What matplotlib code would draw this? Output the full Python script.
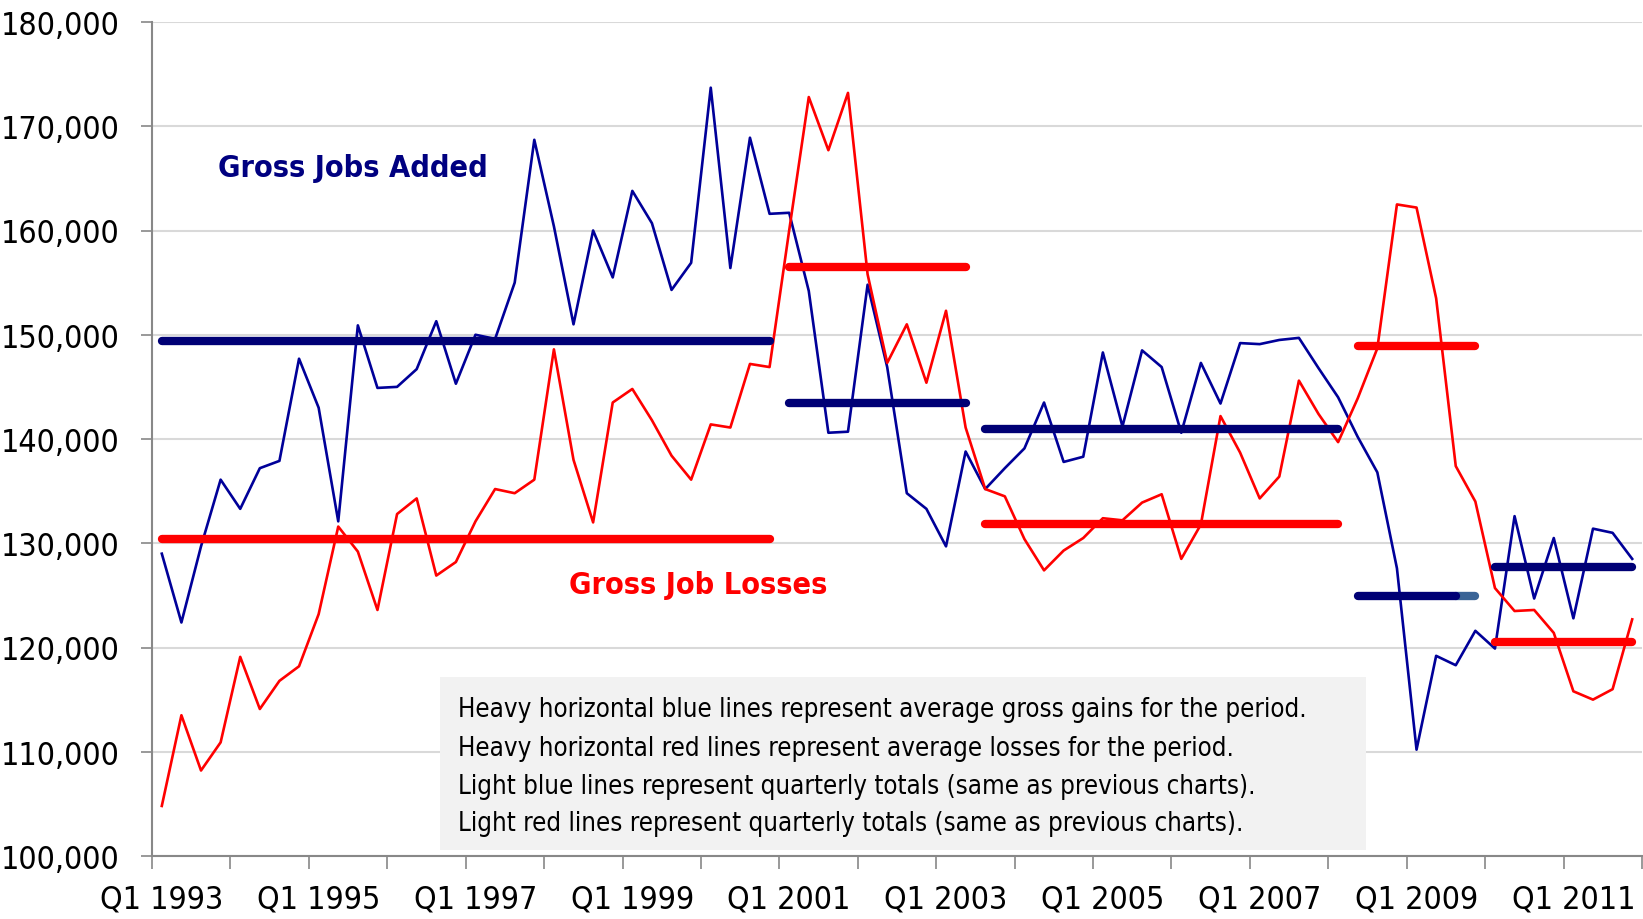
import numpy as np
import matplotlib
matplotlib.use("Agg")
import matplotlib.pyplot as plt
from matplotlib.patches import Rectangle
from matplotlib import font_manager

# Prefer a condensed sans face for all labels
_cond = font_manager.FontProperties(family='DejaVu Sans', stretch='condensed')
_path = font_manager.findfont(_cond, fallback_to_default=True)
CONDENSED = 'Condensed' in _path
plt.rcParams['font.family'] = ['DejaVu Sans']
plt.rcParams['font.stretch'] = 'condensed'

# Quarterly gross job gains / losses, Q1 1993 - Q4 2011
gains = [129.0, 122.4, 129.7, 136.1, 133.3, 137.2, 137.9, 147.7, 143.0, 132.1,
         150.9, 144.9, 145.0, 146.7, 151.3, 145.3, 150.0, 149.6, 155.0, 168.7,
         160.4, 151.0, 160.0, 155.5, 163.8, 160.7, 154.3, 156.9, 173.7, 156.4,
         168.9, 161.6, 161.7, 154.2, 140.6, 140.7, 154.8, 146.9, 134.8, 133.3,
         129.7, 138.8, 135.2, 137.2, 139.1, 143.5, 137.8, 138.3, 148.3, 141.2,
         148.5, 146.9, 140.6, 147.3, 143.4, 149.2, 149.1, 149.5, 149.7, 146.8,
         144.0, 140.2, 136.8, 127.6, 110.2, 119.2, 118.3, 121.6, 119.9, 132.6,
         124.7, 130.5, 122.8, 131.4, 131.0, 128.5]
losses = [104.8, 113.5, 108.2, 110.9, 119.1, 114.1, 116.8, 118.2, 123.2, 131.6,
          129.2, 123.6, 132.8, 134.3, 126.9, 128.2, 132.1, 135.2, 134.8, 136.1,
          148.6, 138.0, 132.0, 143.5, 144.8, 141.8, 138.4, 136.1, 141.4, 141.1,
          147.2, 146.9, 160.0, 172.8, 167.7, 173.2, 155.8, 147.3, 151.0, 145.4,
          152.3, 141.1, 135.2, 134.5, 130.4, 127.4, 129.3, 130.5, 132.4, 132.2,
          133.9, 134.7, 128.5, 131.8, 142.2, 138.7, 134.3, 136.4, 145.6, 142.4,
          139.7, 143.9, 148.7, 162.5, 162.2, 153.5, 137.4, 134.0, 125.7, 123.5,
          123.6, 121.4, 115.8, 115.0, 116.0, 122.7]
gains = [v * 1000 for v in gains]
losses = [v * 1000 for v in losses]

# Period averages: (first quarter index, last quarter index)
periods = [(0, 31), (32, 41), (42, 60), (61, 67), (68, 75)]
avg_gains = [149400, 143500, 141000, 124900, 127700]
avg_losses = [130400, 156500, 131800, 148900, 120500]

tick_labels = [f"Q1 {y}" for y in range(1993, 2012, 2)]

notes = [
    "Heavy horizontal blue lines represent average gross gains for the period.",
    "Heavy horizontal red lines represent average losses for the period.",
    "Light blue lines represent quarterly totals (same as previous charts).",
    "Light red lines represent quarterly totals (same as previous charts).",
]

BLUE = "#000099"
NAVY = "#000075"
STEEL = "#3A6496"
RED = "#FF0000"

TICK_FS = 23 if CONDENSED else 20
LABEL_FS = 22 if CONDENSED else 19
NOTE_FS = 18.5 if CONDENSED else 16

fig = plt.figure(figsize=(16.43, 9.2), dpi=100)
ax = fig.add_axes([152 / 1643, 1 - 857 / 920, 1490 / 1643, 834 / 920])

x = np.arange(len(gains))
ax.plot(x, gains, color=BLUE, lw=1.9, zorder=3)
ax.plot(x, losses, color=RED, lw=1.9, zorder=3)

for k, ((a, b), g, l) in enumerate(zip(periods, avg_gains, avg_losses)):
    if k == 3:
        ax.plot([b - 1, b], [g, g], color=STEEL, lw=6, solid_capstyle='round', zorder=4)
        ax.plot([a, b - 1], [g, g], color=NAVY, lw=6, solid_capstyle='round', zorder=4)
    else:
        ax.plot([a, b], [g, g], color=NAVY, lw=6, solid_capstyle='round', zorder=4)
    ax.plot([a, b], [l, l], color=RED, lw=6, solid_capstyle='round', zorder=4)

ax.set_xlim(-0.5, len(gains) - 0.5)
ax.set_ylim(100000, 180000)
ax.set_yticks(np.arange(100000, 180001, 10000))
ax.yaxis.set_major_formatter(matplotlib.ticker.FuncFormatter(lambda v, p: f"{int(v):,}"))
ax.tick_params(axis='y', labelsize=TICK_FS, length=8, width=1.2, color="#888888", pad=15.5)

ax.set_xticks(np.arange(0, len(gains), 8))
ax.set_xticklabels(tick_labels)
ax.set_xticks(np.arange(-0.5, len(gains), 4), minor=True)
ax.tick_params(axis='x', which='major', labelsize=TICK_FS, length=0, pad=20)
ax.tick_params(axis='x', which='minor', length=9, width=1.2, color="#888888")

ax.grid(axis='y', color="#D9D9D9", lw=1.5, zorder=0)
ax.set_axisbelow(True)
for side in ('top', 'right'):
    ax.spines[side].set_visible(False)
for side in ('left', 'bottom'):
    ax.spines[side].set_color("#888888")
    ax.spines[side].set_linewidth(1.5)

ax.text(2.86, 166000, "Gross Jobs Added", color="#000080", fontsize=LABEL_FS,
        fontweight='bold', ha='left', va='center', zorder=5)
ax.text(20.77, 126000, "Gross Job Losses", color=RED, fontsize=LABEL_FS,
        fontweight='bold', ha='left', va='center', zorder=5)

ax.add_patch(Rectangle((0.1933, 0.0072), 0.6215, 0.2074, transform=ax.transAxes,
                       facecolor="#F2F2F2", edgecolor='none', zorder=2))
for yy, line in zip([0.1762, 0.1294, 0.0840, 0.0397], notes):
    ax.text(0.2054, yy, line, transform=ax.transAxes, fontsize=NOTE_FS,
            ha='left', va='center', color="#000000", zorder=5)

fig.savefig("out.png", dpi=100)
